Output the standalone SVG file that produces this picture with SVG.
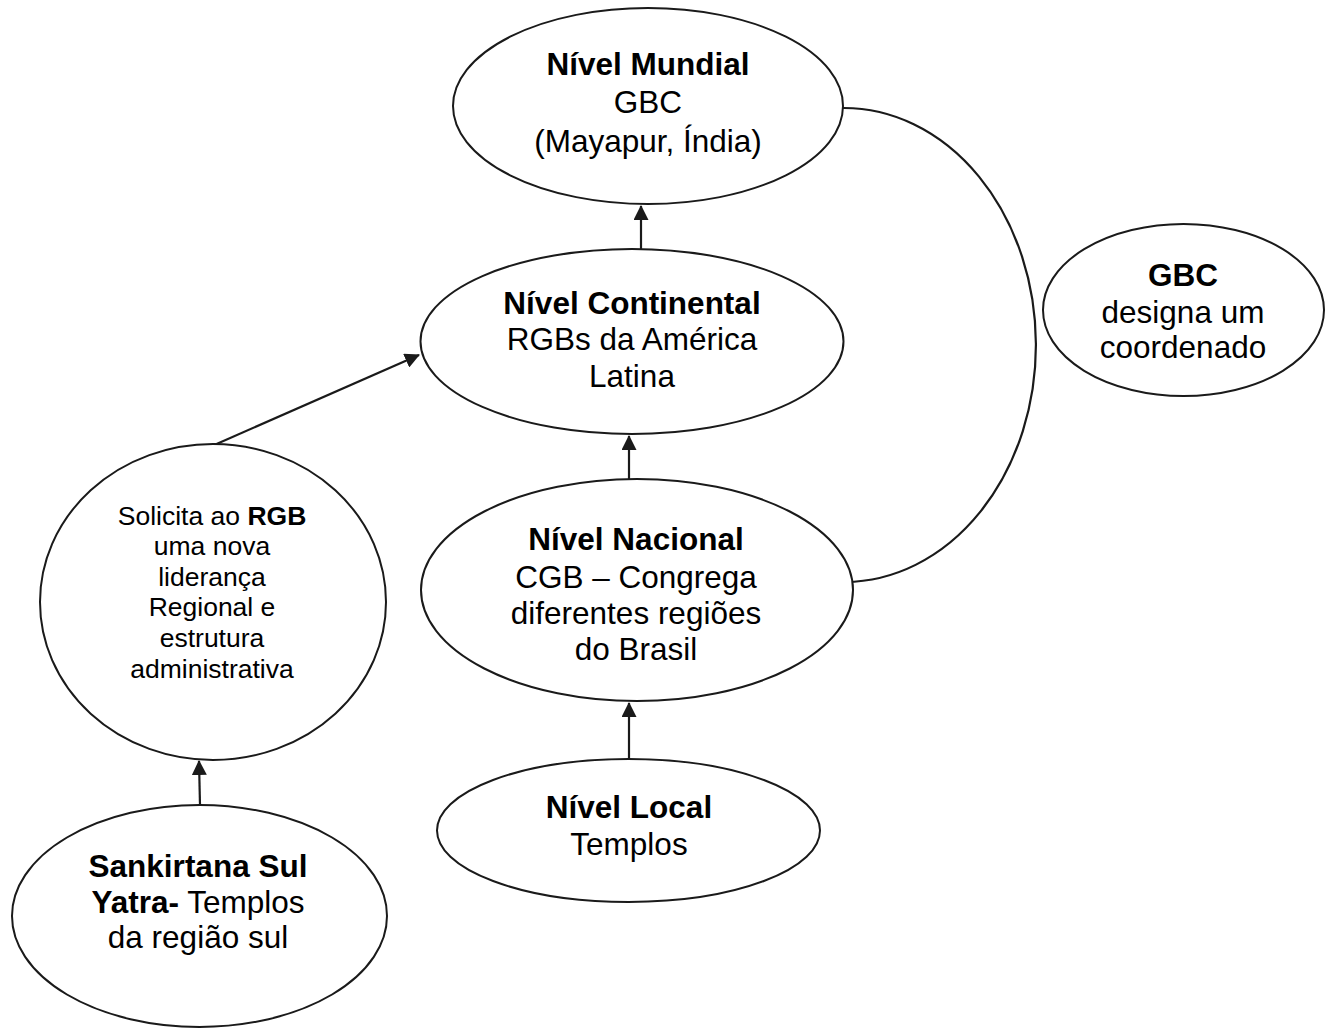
<svg xmlns="http://www.w3.org/2000/svg" width="1330" height="1028" viewBox="0 0 1330 1028">
<defs>
<marker id="arr" viewBox="0 0 15 15" refX="14" refY="7.5" markerWidth="15" markerHeight="15" markerUnits="userSpaceOnUse" orient="auto">
<path d="M0,0 L15,7.5 L0,15 z" fill="#1a1a1a"/>
</marker>
<style>
.n{fill:#fff;stroke:#1a1a1a;stroke-width:2}
.t{font-family:"Liberation Sans",Arial,sans-serif;font-size:31.5px;fill:#000;text-anchor:middle}
.s{font-family:"Liberation Sans",Arial,sans-serif;font-size:26.5px;fill:#000;text-anchor:middle}
.b{font-weight:bold}
.c{fill:none;stroke:#1a1a1a;stroke-width:2.2}
</style>
</defs>
<rect width="1330" height="1028" fill="#fff"/>
<g id="connectors">
<path class="c" d="M843,108 A192,237 0 0 1 845,582"/>
<line class="c" x1="641" y1="249" x2="641" y2="206" marker-end="url(#arr)"/>
<line class="c" x1="629" y1="479" x2="629" y2="436" marker-end="url(#arr)"/>
<line class="c" x1="629" y1="759" x2="629" y2="703" marker-end="url(#arr)"/>
<line class="c" x1="200" y1="805" x2="199" y2="761" marker-end="url(#arr)"/>
<line class="c" x1="212" y1="446" x2="419" y2="355" marker-end="url(#arr)"/>
</g>
<g id="mundial">
<ellipse class="n" cx="648" cy="106" rx="195" ry="98"/>
<text class="t b" x="648" y="75">Nível Mundial</text>
<text class="t" x="648" y="113">GBC</text>
<text class="t" x="648" y="152">(Mayapur, Índia)</text>
</g>
<g id="continental">
<ellipse class="n" cx="632" cy="341.5" rx="211.5" ry="92.5"/>
<text class="t b" x="632" y="314">Nível Continental</text>
<text class="t" x="632" y="350">RGBs da América</text>
<text class="t" x="632" y="387">Latina</text>
</g>
<g id="gbc">
<ellipse class="n" cx="1183.5" cy="310" rx="140.5" ry="86"/>
<text class="t b" x="1183" y="286">GBC</text>
<text class="t" x="1183" y="323">designa um</text>
<text class="t" x="1183" y="358">coordenado</text>
</g>
<g id="solicita">
<ellipse class="n" cx="213" cy="602" rx="173" ry="158"/>
<text class="s" x="212" y="525">Solicita ao <tspan class="b">RGB</tspan></text>
<text class="s" x="212" y="555">uma nova</text>
<text class="s" x="212" y="586">liderança</text>
<text class="s" x="212" y="616">Regional e</text>
<text class="s" x="212" y="647">estrutura</text>
<text class="s" x="212" y="678">administrativa</text>
</g>
<g id="nacional">
<ellipse class="n" cx="637" cy="590" rx="216" ry="111"/>
<text class="t b" x="636" y="550">Nível Nacional</text>
<text class="t" x="636" y="588">CGB – Congrega</text>
<text class="t" x="636" y="624">diferentes regiões</text>
<text class="t" x="636" y="660">do Brasil</text>
</g>
<g id="local">
<ellipse class="n" cx="628.5" cy="830.5" rx="191.5" ry="71.5"/>
<text class="t b" x="629" y="818">Nível Local</text>
<text class="t" x="629" y="855">Templos</text>
</g>
<g id="sankirtana">
<ellipse class="n" cx="199.5" cy="916" rx="187.5" ry="111"/>
<text class="t b" x="198" y="877">Sankirtana Sul</text>
<text class="t" x="198" y="913"><tspan class="b">Yatra-</tspan> Templos</text>
<text class="t" x="198" y="948">da região sul</text>
</g>
</svg>
